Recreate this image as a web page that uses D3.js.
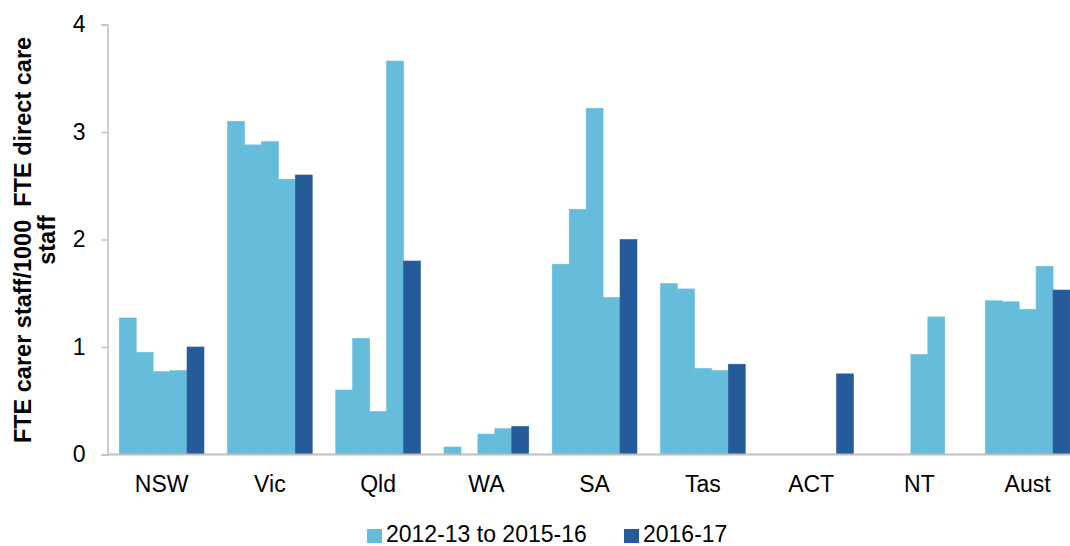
<!DOCTYPE html>
<html>
<head>
<meta charset="utf-8">
<script src="https://cdn.jsdelivr.net/npm/d3@7"></script>
<style>
  html, body { margin: 0; padding: 0; background: #fff; }
  svg { display: block; font-family: "Liberation Sans", Arial, sans-serif; }
</style>
</head>
<body>
<svg id="chart" width="1070" height="546"></svg>
<script>
const categories = ["NSW", "Vic", "Qld", "WA", "SA", "Tas", "ACT", "NT", "Aust"];
const seriesNames = ["2012-13 to 2015-16", "2016-17"];
// Four years 2012-13..2015-16 (light), then 2016-17 (dark); null = no data
const years = ["2012-13", "2013-14", "2014-15", "2015-16", "2016-17"];
const values = {
  "NSW":  [1.27, 0.95, 0.77, 0.78, 1.00],
  "Vic":  [3.10, 2.88, 2.91, 2.56, 2.60],
  "Qld":  [0.60, 1.08, 0.40, 3.66, 1.80],
  "WA":   [0.07, null, 0.19, 0.24, 0.26],
  "SA":   [1.77, 2.28, 3.22, 1.46, 2.00],
  "Tas":  [1.59, 1.54, 0.80, 0.78, 0.84],
  "ACT":  [null, null, null, null, 0.75],
  "NT":   [null, null, 0.93, 1.28, null],
  "Aust": [1.43, 1.42, 1.35, 1.75, 1.53]
};
const yTicks = [0, 1, 2, 3, 4];
const colors = ["#66bcdb", "#265b9a"];

const svg = d3.select("#chart");
const x0 = 107.5, step = 108.25;
const x = d3.scaleBand().domain(categories)
  .range([x0, x0 + step * categories.length])
  .paddingInner(0.2176).paddingOuter(0.1088);
const xi = d3.scaleBand().domain(years).range([0, x.bandwidth()]).padding(0);
const y = d3.scaleLinear().domain([0, 4]).range([454.5, 24.5]);

const rows = [];
categories.forEach(c => values[c].forEach((v, i) => {
  if (v !== null) rows.push({c, yr: years[i], v, s: i < 4 ? 0 : 1});
}));

svg.append("g").selectAll("rect").data(rows).join("rect")
  .attr("x", d => x(d.c) + xi(d.yr))
  .attr("width", xi.bandwidth())
  .attr("y", d => y(d.v))
  .attr("height", d => y(0) - y(d.v))
  .attr("fill", d => colors[d.s])
  .attr("stroke", d => colors[d.s]).attr("stroke-width", 0.6);

// y axis
const yAxis = svg.append("g").attr("transform", `translate(${x0},0)`)
  .call(d3.axisLeft(y).tickValues(yTicks).tickSize(6).tickPadding(16).tickFormat(d3.format("d")));
yAxis.select(".domain").attr("stroke", "#bfbfbf").attr("stroke-width", 1.5);
yAxis.selectAll(".tick line").attr("stroke", "#bfbfbf").attr("stroke-width", 1.5);
yAxis.selectAll(".tick text").attr("font-size", 23).attr("fill", "#000")
  .attr("font-family", "Liberation Sans, Arial, sans-serif");

// x axis
const xAxis = svg.append("g").attr("transform", `translate(0,${y(0)})`)
  .call(d3.axisBottom(x).tickSize(0).tickPadding(21));
xAxis.select(".domain").attr("d", `M${x0},0H1070`).attr("stroke", "#bfbfbf").attr("stroke-width", 2);
xAxis.selectAll(".tick text").attr("font-size", 23).attr("fill", "#000")
  .attr("font-family", "Liberation Sans, Arial, sans-serif");

// y label
const yl = svg.append("text")
  .attr("transform", "translate(0,240) rotate(-90)")
  .attr("text-anchor", "middle").attr("font-weight", "bold").attr("font-size", 23.5)
  .attr("fill", "#000").style("white-space", "pre");
yl.append("tspan").attr("x", 0).attr("y", 31).text("FTE carer staff/1000  FTE direct care");
yl.append("tspan").attr("x", 0).attr("y", 55).text("staff");

// legend
const legend = svg.append("g");
const legendItems = [{x: 367, tx: 386}, {x: 624, tx: 643}];
seriesNames.forEach((n, i) => {
  legend.append("rect").attr("x", legendItems[i].x).attr("y", 529)
    .attr("width", 15).attr("height", 14).attr("fill", colors[i]);
  legend.append("text").attr("x", legendItems[i].tx).attr("y", 542)
    .attr("font-size", 23).attr("fill", "#000").text(n);
});
</script>
</body>
</html>
